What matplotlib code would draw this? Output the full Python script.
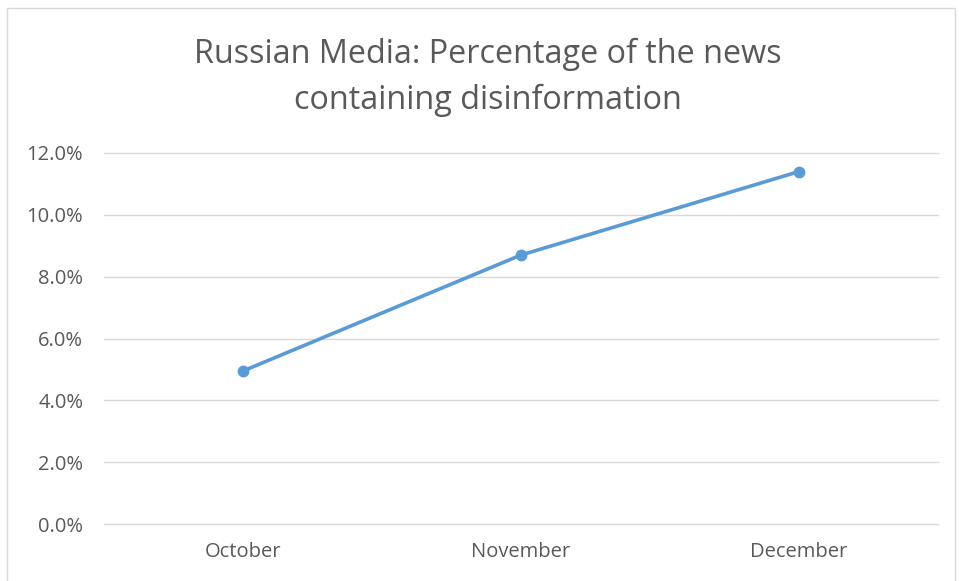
import matplotlib.pyplot as plt
from matplotlib.patches import Rectangle
from matplotlib.ticker import FuncFormatter

# data
months = ['October', 'November', 'December']
share = [4.95, 8.7, 11.4]  # percent
yticks = [0, 2, 4, 6, 8, 10, 12]

W, H = 959, 581
fig = plt.figure(figsize=(W / 100, H / 100), dpi=100)
plt.rcParams['font.family'] = ['Open Sans', 'DejaVu Sans']

# outer chart frame (Excel style)
fig.patches.append(Rectangle((7 / W, -0.01), 948 / W, 1 - 8 / H + 0.01,
                             transform=fig.transFigure, fill=False,
                             edgecolor='#d9d9d9', linewidth=1))

ax = fig.add_axes([104 / W, 1 - 524 / H, 834 / W, (524 - 153) / H])
x = range(len(months))
ax.plot(x, share, color='#5b9bd5', linewidth=2.6, marker='o', markersize=7.5,
        solid_capstyle='round', zorder=3)

ax.set_xlim(-0.5, len(months) - 0.5)
ax.set_ylim(0, 12)
ax.set_yticks(yticks)
ax.yaxis.set_major_formatter(FuncFormatter(lambda v, p: f'{v:.1f}%'))
ax.set_xticks(list(x))
ax.set_xticklabels(months)
ax.grid(axis='y', color='#d9d9d9', linewidth=1)
for gl in ax.get_ygridlines():
    gl.set_clip_on(False)
ax.set_axisbelow(True)
for s in ax.spines.values():
    s.set_visible(False)
ax.tick_params(length=0, labelsize=14.5, colors='#595959', pad=15)
ax.tick_params(axis='x', pad=13)

fig.text(488 / W, 1 - 77 / H, 'Russian Media: Percentage of the news\ncontaining disinformation',
         ha='center', va='center', fontsize=23.3, color='#595959', linespacing=1.5)

fig.savefig('out.png', dpi=100)
